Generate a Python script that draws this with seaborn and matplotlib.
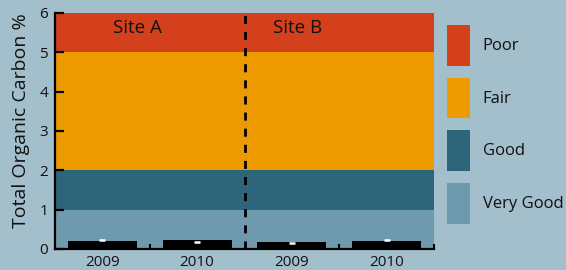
import matplotlib
matplotlib.use("Agg")
import matplotlib.pyplot as plt
from matplotlib.patches import Patch
import seaborn as sns
import pandas as pd

# ---- data ----
bar_keys = ["A-2009", "A-2010", "B-2009", "B-2010"]
bar_labels = ["2009", "2010", "2009", "2010"]
toc_values = [0.21, 0.24, 0.18, 0.21]
mark_values = [0.22, 0.19, 0.15, 0.22]

site_names = ["Site A", "Site B"]
site_x = [0.375, 2.06]
site_y = [5.61, 5.63]

band_labels = ["Poor", "Fair", "Good", "Very Good"]
band_lower = [5, 2, 1, 0]
band_upper = [6, 5, 2, 1]
band_colors = ["#d4401b", "#ec9a00", "#2d657b", "#6f9aad"]

site_divider = 1.5
minor_ticks = [0.5, 2.5, 3.5]
y_ticks = [0, 1, 2, 3, 4, 5, 6]

bg = "#a3bfcc"

sns.set_theme(style="ticks")
plt.rcParams["font.family"] = ["Open Sans", "DejaVu Sans"]

df = pd.DataFrame({"key": bar_keys, "toc": toc_values, "mark": mark_values})

fig = plt.figure(figsize=(5.66, 2.70), dpi=100, facecolor=bg)
ax = fig.add_axes([55 / 566, 21 / 270, 379 / 566, 236 / 270])
ax.set_facecolor(bg)

for lo, hi, c in zip(band_lower, band_upper, band_colors):
    ax.axhspan(lo, hi, color=c, zorder=0, lw=0)

sns.barplot(data=df, x="key", y="toc", order=bar_keys, color="black",
            saturation=1, width=0.73, errorbar=None, ax=ax, zorder=2,
            linewidth=0, edgecolor="black")
sns.pointplot(data=df, x="key", y="mark", order=bar_keys, color="white",
              markers="_", linestyle="none", errorbar=None, ax=ax,
              markersize=4, markeredgewidth=1.8, zorder=3)

ax.axvline(site_divider, color="black", lw=2.0, dashes=(2.9, 2.9), zorder=3)

for name, sx, sy in zip(site_names, site_x, site_y):
    ax.text(sx, sy, name, ha="center", va="center", fontsize=13.5, color="#111111")

ax.set_xlim(-0.5, 3.5)
ax.set_ylim(0, 6)
ax.set_yticks(y_ticks)
ax.set_xticks(range(len(bar_keys)))
ax.set_xticklabels(bar_labels)
ax.set_xticks(minor_ticks, minor=True)
ax.set_xlabel("")
ax.set_ylabel("Total Organic Carbon %", fontsize=14, color="#111111")
ax.yaxis.set_label_coords(-0.067, 0.545)

for s in ["top", "right"]:
    ax.spines[s].set_visible(False)
for s in ["left", "bottom"]:
    ax.spines[s].set_color("black")
    ax.spines[s].set_linewidth(1.6)
    ax.spines[s].set_zorder(4)

ax.tick_params(axis="y", direction="in", length=6.5, width=1.6, color="black",
               labelsize=11, pad=5, labelcolor="#111111")
ax.tick_params(axis="x", which="major", length=0, labelsize=11, pad=4.5,
               labelcolor="#111111")
ax.tick_params(axis="x", which="minor", direction="in", length=3.6, width=1.5,
               color="black")

handles = [Patch(facecolor=c, edgecolor="none", label=l)
           for l, c in zip(band_labels, band_colors)]
fs = 12 * 100 / 72
hh = (40.7 / fs - 0.245) / 0.65
fig.legend(handles=handles, loc="upper left",
           bbox_to_anchor=(447 / 566, 1 - 25 / 270), frameon=False,
           fontsize=12, handlelength=23 / fs, handleheight=hh,
           labelspacing=12 / fs, handletextpad=12.7 / fs,
           borderpad=0, borderaxespad=0, labelcolor="#111111")

fig.savefig("out.png", dpi=100, facecolor=bg)
